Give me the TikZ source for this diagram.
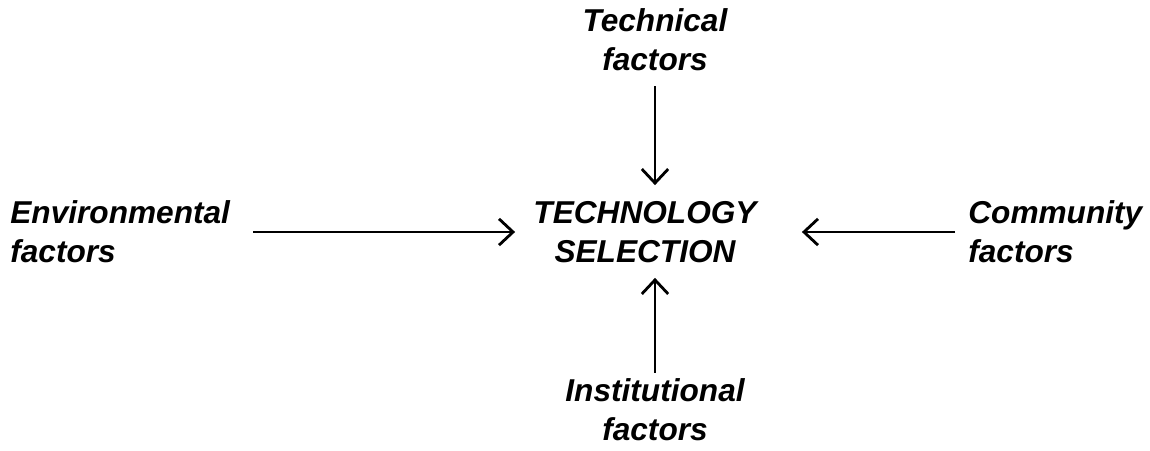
\documentclass[tikz,border=0pt]{standalone}
\usepackage{fontspec}
\setmainfont{Liberation Sans}
\usetikzlibrary{arrows.meta}
\begin{document}
\begin{tikzpicture}[x=0.02cm,y=-0.02cm,
  lbl/.style={inner sep=0pt,font=\fontsize{18}{22}\selectfont\bfseries\itshape},
  arr/.style={line width=1.6pt,-{Straight Barb[length=8pt,width=15pt,line width=1.6pt]}}]
\useasboundingbox (0,0) rectangle (1150,450);
\node[lbl,align=center] (tech) at (655,40) {Technical\\factors};
\node[lbl,align=left,anchor=west] (env) at (10,232) {Environmental\\factors};
\node[lbl,align=center] (sel) at (645,232) {TECHNOLOGY\\SELECTION};
\node[lbl,align=left,anchor=west] (comm) at (968,232) {Community\\factors};
\node[lbl,align=center] (inst) at (655,410) {Institutional\\factors};
\draw[arr,shorten <=0.3cm,shorten >=0.32cm] (tech.south) -- (tech.south |- sel.north);
\draw[arr,shorten <=0.46cm,shorten >=0.36cm] (env.east) -- (sel.west |- env.east);
\draw[arr,shorten <=0.26cm,shorten >=0.9cm] (comm.west) -- (sel.east |- comm.west);
\draw[arr,shorten <=0.12cm,shorten >=0.3cm] (inst.north) -- (inst.north |- sel.south);
\end{tikzpicture}
\end{document}
